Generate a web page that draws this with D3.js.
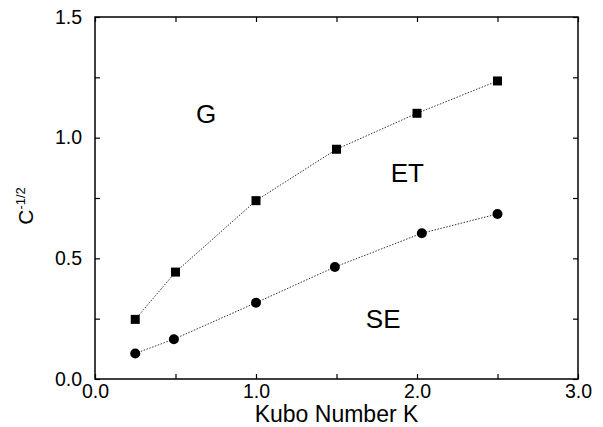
<!DOCTYPE html>
<html>
<head>
<meta charset="utf-8">
<script src="https://cdn.jsdelivr.net/npm/d3@7"></script>
<style>
  body { margin: 0; background: #fff; }
  text { font-family: "Liberation Sans", Arial, sans-serif; fill: #000; }
</style>
</head>
<body>
<div id="chart"></div>
<script>
var margin = {top: 17, right: 25, bottom: 48, left: 95},
    width = 603 - margin.left - margin.right,
    height = 427 - margin.top - margin.bottom;

// G / ET boundary (squares)
var squareK = [0.25, 0.5, 1.0, 1.5, 2.0, 2.5];
var squareC = [0.247, 0.443, 0.739, 0.952, 1.101, 1.235];

// ET / SE boundary (circles)
var circleK = [0.25, 0.49, 1.0, 1.49, 2.03, 2.5];
var circleC = [0.106, 0.165, 0.316, 0.464, 0.604, 0.684];

var xTicks = [0, 1, 2, 3];
var xMinor = [0.5, 1.5, 2.5];
var yTicks = [0, 0.5, 1.0, 1.5];
var yMinor = [0.25, 0.75, 1.25];

var regionNames = ["G", "ET", "SE"];
var regionK = [0.69, 1.94, 1.79];
var regionC = [1.059, 0.817, 0.211];

var svg = d3.select("#chart").append("svg")
    .attr("width", width + margin.left + margin.right)
    .attr("height", height + margin.top + margin.bottom)
    .append("g")
    .attr("transform", "translate(" + margin.left + "," + margin.top + ")");

var x = d3.scaleLinear().domain([0, 3]).range([0, width]);
var y = d3.scaleLinear().domain([0, 1.5]).range([height, 0]);

var fmt = d3.format(".1f");

// frame with inward ticks on all sides
function styleAxis(g) {
    g.select(".domain").remove();
    g.selectAll(".tick line").attr("stroke", "#000").attr("stroke-width", 1.2);
    g.selectAll(".tick text").style("font-size", "19.5px");
}

svg.append("g")
    .attr("transform", "translate(0," + height + ")")
    .call(d3.axisBottom(x).tickValues(xTicks.concat(xMinor)).tickSize(-5).tickPadding(5)
        .tickFormat(function(d) { return xTicks.includes(d) ? fmt(d) : ""; }))
    .call(styleAxis);

svg.append("g")
    .call(d3.axisTop(x).tickValues(xTicks.concat(xMinor)).tickSize(-5).tickFormat(""))
    .call(styleAxis);

svg.append("g")
    .call(d3.axisLeft(y).tickValues(yTicks.concat(yMinor)).tickSize(-5).tickPadding(13)
        .tickFormat(function(d) { return yTicks.includes(d) ? fmt(d) : ""; }))
    .call(styleAxis);

svg.append("g")
    .attr("transform", "translate(" + width + ",0)")
    .call(d3.axisRight(y).tickValues(yTicks.concat(yMinor)).tickSize(-5).tickFormat(""))
    .call(styleAxis);

svg.append("rect")
    .attr("width", width)
    .attr("height", height)
    .attr("fill", "none")
    .attr("stroke", "#000")
    .attr("stroke-width", 1.5);

// dotted connecting lines
var line = d3.line()
    .x(function(d) { return x(d[0]); })
    .y(function(d) { return y(d[1]); });

var squares = d3.zip(squareK, squareC);
var circles = d3.zip(circleK, circleC);

[squares, circles].forEach(function(s) {
    svg.append("path")
        .datum(s)
        .attr("d", line)
        .attr("fill", "none")
        .attr("stroke", "#333")
        .attr("stroke-width", 1)
        .attr("stroke-dasharray", "1.5,1.5");
});

svg.selectAll(".sq")
    .data(squares)
    .enter()
    .append("rect")
    .attr("x", function(d) { return x(d[0]) - 4.5; })
    .attr("y", function(d) { return y(d[1]) - 4.5; })
    .attr("width", 9)
    .attr("height", 9)
    .attr("fill", "#000");

svg.selectAll(".ci")
    .data(circles)
    .enter()
    .append("circle")
    .attr("cx", function(d) { return x(d[0]); })
    .attr("cy", function(d) { return y(d[1]); })
    .attr("r", 5)
    .attr("fill", "#000");

// region labels
svg.selectAll(".region")
    .data(regionNames)
    .enter()
    .append("text")
    .attr("x", function(d, i) { return x(regionK[i]); })
    .attr("y", function(d, i) { return y(regionC[i]); })
    .attr("text-anchor", "middle")
    .style("font-size", "26px")
    .text(function(d) { return d; });

// axis titles
svg.append("text")
    .attr("x", width / 2)
    .attr("y", height + 43)
    .attr("text-anchor", "middle")
    .style("font-size", "23px")
    .text("Kubo Number K");

var ylab = svg.append("text")
    .attr("transform", "translate(-62," + (y(0.717)) + ") rotate(-90)")
    .attr("text-anchor", "middle")
    .style("font-size", "21px");
ylab.append("tspan").text("C");
ylab.append("tspan").attr("dy", -8).style("font-size", "13px").text("-1/2");
</script>
</body>
</html>
